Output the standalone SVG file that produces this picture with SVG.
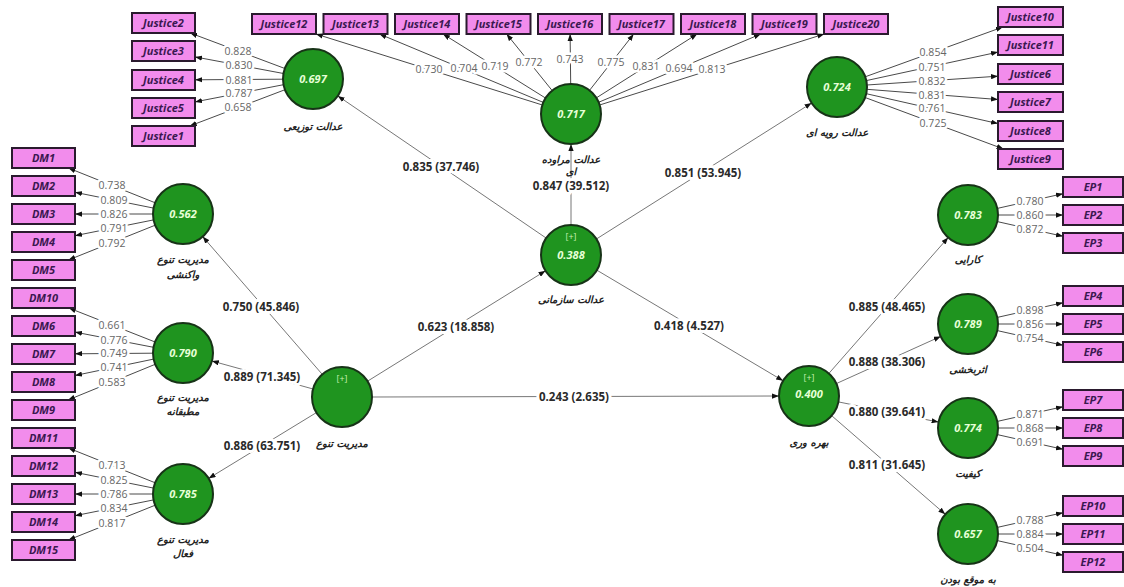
<svg xmlns="http://www.w3.org/2000/svg" width="1124" height="587" viewBox="0 0 1124 587">
<style>
.bx{fill:#f28cec;stroke:#2a1a2e;stroke-width:2}
.bt{font-family:"Open Sans","Liberation Sans",sans-serif;font-size:11px;font-weight:700;font-style:italic;fill:#3a1850;text-anchor:middle}
.lv{fill:#1f941f;stroke:#173317;stroke-width:2}
.vt{font-family:"Open Sans","Liberation Sans",sans-serif;font-size:11px;font-weight:700;font-style:italic;fill:#e6ffd6;text-anchor:middle}
.pl{font-family:"Open Sans","Liberation Sans",sans-serif;font-size:9px;fill:#c8f0b0;text-anchor:middle}
.nl{font-family:"DejaVu Sans","Noto Sans",sans-serif;font-size:10px;font-weight:700;font-style:italic;fill:#222;text-anchor:middle}
.ld{stroke:#4a4a4a;stroke-width:1;fill:none;marker-end:url(#ah)}
.sp{stroke:#777;stroke-width:1;fill:none;marker-end:url(#ah)}
.lt{font-family:"Open Sans","Liberation Sans",sans-serif;font-size:10.5px;fill:#666;text-anchor:middle;stroke:#fff;stroke-width:5;paint-order:stroke;stroke-linejoin:round}
.st{font-family:"Open Sans","Liberation Sans",sans-serif;font-size:11.5px;font-weight:700;fill:#2a2a2a;text-anchor:middle;stroke:#fff;stroke-width:6;paint-order:stroke;stroke-linejoin:round}
</style>
<defs>
<marker id="ah" viewBox="0 0 8 6" refX="8" refY="3" markerWidth="7" markerHeight="5.5" markerUnits="userSpaceOnUse" orient="auto"><path d="M0,0L8,3L0,6z" fill="#111"/></marker>
</defs>
<rect width="1124" height="587" fill="#fff"/>

<g id="connectors">
<line class="ld" x1="284.9" y1="68.5" x2="190.2" y2="33"/>
<line class="ld" x1="283.5" y1="73.5" x2="195" y2="56.9"/>
<line class="ld" x1="283" y1="79.2" x2="195" y2="79.8"/>
<line class="ld" x1="283.5" y1="84.7" x2="195" y2="101.9"/>
<line class="ld" x1="285" y1="89.7" x2="189.7" y2="126"/>
<line class="ld" x1="542.4" y1="105" x2="315.9" y2="34"/>
<line class="ld" x1="543.3" y1="102.4" x2="379.4" y2="34"/>
<line class="ld" x1="545.6" y1="98.1" x2="443" y2="34"/>
<line class="ld" x1="552.2" y1="90.6" x2="506.6" y2="34"/>
<line class="ld" x1="570.7" y1="84" x2="570.1" y2="34"/>
<line class="ld" x1="589.5" y1="90.4" x2="633.7" y2="34"/>
<line class="ld" x1="596.3" y1="97.9" x2="697.2" y2="34"/>
<line class="ld" x1="598.6" y1="102.3" x2="760.8" y2="34"/>
<line class="ld" x1="599.6" y1="105" x2="824.3" y2="34"/>
<line class="ld" x1="865.2" y1="76.8" x2="1002.9" y2="27"/>
<line class="ld" x1="866.3" y1="80.6" x2="998" y2="52.1"/>
<line class="ld" x1="866.9" y1="85" x2="998" y2="76.2"/>
<line class="ld" x1="866.9" y1="89.3" x2="998" y2="99.5"/>
<line class="ld" x1="866.3" y1="93.7" x2="998" y2="123.6"/>
<line class="ld" x1="865.1" y1="97.5" x2="1003.6" y2="149"/>
<line class="ld" x1="155.2" y1="202.8" x2="68.4" y2="168"/>
<line class="ld" x1="153.6" y1="208.1" x2="75" y2="192.3"/>
<line class="ld" x1="153" y1="214" x2="75" y2="214"/>
<line class="ld" x1="153.6" y1="219.9" x2="75" y2="235.7"/>
<line class="ld" x1="155.2" y1="225.2" x2="68.4" y2="260"/>
<line class="ld" x1="155.1" y1="342" x2="68.9" y2="308"/>
<line class="ld" x1="153.5" y1="347.3" x2="75" y2="332.1"/>
<line class="ld" x1="153" y1="353.2" x2="75" y2="353.8"/>
<line class="ld" x1="153.6" y1="359.1" x2="75" y2="375.5"/>
<line class="ld" x1="155.2" y1="364.3" x2="68" y2="400"/>
<line class="ld" x1="155.2" y1="482.8" x2="68.4" y2="448"/>
<line class="ld" x1="153.6" y1="488.1" x2="75" y2="472.3"/>
<line class="ld" x1="153" y1="494" x2="75" y2="494"/>
<line class="ld" x1="153.6" y1="499.9" x2="75" y2="515.7"/>
<line class="ld" x1="155.2" y1="505.2" x2="68.4" y2="540"/>
<line class="ld" x1="997.3" y1="208.4" x2="1063" y2="193.7"/>
<line class="ld" x1="998" y1="215" x2="1063" y2="215"/>
<line class="ld" x1="997.3" y1="221.6" x2="1063" y2="236.3"/>
<line class="ld" x1="997.3" y1="317.4" x2="1063" y2="302.7"/>
<line class="ld" x1="998" y1="324" x2="1063" y2="324"/>
<line class="ld" x1="997.3" y1="330.6" x2="1063" y2="345.3"/>
<line class="ld" x1="997.3" y1="421.4" x2="1063" y2="406.7"/>
<line class="ld" x1="998" y1="428" x2="1063" y2="428"/>
<line class="ld" x1="997.3" y1="434.6" x2="1063" y2="449.3"/>
<line class="ld" x1="997.3" y1="527.4" x2="1063" y2="512.7"/>
<line class="ld" x1="998" y1="534" x2="1063" y2="534"/>
<line class="ld" x1="997.3" y1="540.6" x2="1063" y2="555.3"/>
<line class="sp" x1="546.2" y1="238.1" x2="337.8" y2="95.9"/>
<line class="sp" x1="571" y1="225" x2="571" y2="144"/>
<line class="sp" x1="596.4" y1="239" x2="811.6" y2="103"/>
<line class="sp" x1="367.5" y1="381.2" x2="545.5" y2="270.8"/>
<line class="sp" x1="596.9" y1="270.2" x2="783.1" y2="380.8"/>
<line class="sp" x1="372" y1="397" x2="779" y2="396"/>
<line class="sp" x1="322.3" y1="374.4" x2="202.7" y2="236.6"/>
<line class="sp" x1="313.1" y1="389" x2="211.9" y2="361"/>
<line class="sp" x1="316.4" y1="412.6" x2="208.6" y2="478.4"/>
<line class="sp" x1="828.8" y1="373.5" x2="948.2" y2="237.5"/>
<line class="sp" x1="836.3" y1="383.6" x2="940.7" y2="336.4"/>
<line class="sp" x1="838.4" y1="401.9" x2="938.6" y2="422.1"/>
<line class="sp" x1="831.7" y1="415.7" x2="945.3" y2="514.3"/>
<text class="lt" x="238" y="55">0.828</text>
<text class="lt" x="239" y="69">0.830</text>
<text class="lt" x="239" y="83.5">0.881</text>
<text class="lt" x="239" y="97">0.787</text>
<text class="lt" x="238" y="111">0.658</text>
<text class="lt" x="429" y="73">0.730</text>
<text class="lt" x="464" y="72">0.704</text>
<text class="lt" x="495" y="70">0.719</text>
<text class="lt" x="529" y="66">0.772</text>
<text class="lt" x="570" y="63">0.743</text>
<text class="lt" x="611" y="66">0.775</text>
<text class="lt" x="646" y="70">0.831</text>
<text class="lt" x="679" y="72">0.694</text>
<text class="lt" x="712" y="73">0.813</text>
<text class="lt" x="933" y="56">0.854</text>
<text class="lt" x="932" y="70.5">0.751</text>
<text class="lt" x="932" y="84.5">0.832</text>
<text class="lt" x="932" y="98.5">0.831</text>
<text class="lt" x="932" y="112">0.761</text>
<text class="lt" x="933" y="127">0.725</text>
<text class="lt" x="112" y="189">0.738</text>
<text class="lt" x="114" y="204">0.809</text>
<text class="lt" x="114" y="218">0.826</text>
<text class="lt" x="114" y="231.5">0.791</text>
<text class="lt" x="112" y="246.5">0.792</text>
<text class="lt" x="112" y="329">0.661</text>
<text class="lt" x="114" y="343.5">0.776</text>
<text class="lt" x="114" y="357">0.749</text>
<text class="lt" x="114" y="371">0.741</text>
<text class="lt" x="112" y="386">0.583</text>
<text class="lt" x="112" y="469">0.713</text>
<text class="lt" x="114" y="484">0.825</text>
<text class="lt" x="114" y="498">0.786</text>
<text class="lt" x="114" y="511.5">0.834</text>
<text class="lt" x="112" y="526.5">0.817</text>
<text class="lt" x="1030" y="205">0.780</text>
<text class="lt" x="1030" y="218.5">0.860</text>
<text class="lt" x="1030" y="232.5">0.872</text>
<text class="lt" x="1030" y="314">0.898</text>
<text class="lt" x="1030" y="327.5">0.856</text>
<text class="lt" x="1030" y="341.5">0.754</text>
<text class="lt" x="1030" y="418">0.871</text>
<text class="lt" x="1030" y="431.5">0.868</text>
<text class="lt" x="1030" y="445.5">0.691</text>
<text class="lt" x="1030" y="524">0.788</text>
<text class="lt" x="1030" y="537.5">0.884</text>
<text class="lt" x="1030" y="551.5">0.504</text>
<text class="st" x="441" y="171">0.835 (37.746)</text>
<text class="st" x="571" y="190">0.847 (39.512)</text>
<text class="st" x="703" y="177">0.851 (53.945)</text>
<text class="st" x="456" y="331">0.623 (18.858)</text>
<text class="st" x="689" y="330">0.418 (4.527)</text>
<text class="st" x="574" y="401">0.243 (2.635)</text>
<text class="st" x="261" y="311">0.750 (45.846)</text>
<text class="st" x="262" y="381">0.889 (71.345)</text>
<text class="st" x="262" y="450">0.886 (63.751)</text>
<text class="st" x="887" y="311">0.885 (48.465)</text>
<text class="st" x="887" y="366">0.888 (38.306)</text>
<text class="st" x="887" y="416">0.880 (39.641)</text>
<text class="st" x="887" y="469">0.811 (31.645)</text>
</g>

<g id="ind-justice-left">
<rect class="bx" x="132" y="13" width="63" height="20"/><text class="bt" x="163.5" y="27">Justice2</text>
<rect class="bx" x="132" y="41" width="63" height="20"/><text class="bt" x="163.5" y="55">Justice3</text>
<rect class="bx" x="132" y="70" width="63" height="20"/><text class="bt" x="163.5" y="84">Justice4</text>
<rect class="bx" x="132" y="98" width="63" height="20"/><text class="bt" x="163.5" y="112">Justice5</text>
<rect class="bx" x="132" y="126" width="63" height="20"/><text class="bt" x="163.5" y="140">Justice1</text>
</g>
<g id="ind-justice-top">
<rect class="bx" x="252" y="14" width="64" height="20"/><text class="bt" x="284" y="28">Justice12</text>
<rect class="bx" x="323.5" y="14" width="64" height="20"/><text class="bt" x="355.5" y="28">Justice13</text>
<rect class="bx" x="395" y="14" width="64" height="20"/><text class="bt" x="427" y="28">Justice14</text>
<rect class="bx" x="466.5" y="14" width="64" height="20"/><text class="bt" x="498.5" y="28">Justice15</text>
<rect class="bx" x="538" y="14" width="64" height="20"/><text class="bt" x="570" y="28">Justice16</text>
<rect class="bx" x="609.5" y="14" width="64" height="20"/><text class="bt" x="641.5" y="28">Justice17</text>
<rect class="bx" x="681" y="14" width="64" height="20"/><text class="bt" x="713" y="28">Justice18</text>
<rect class="bx" x="752.5" y="14" width="64" height="20"/><text class="bt" x="784.5" y="28">Justice19</text>
<rect class="bx" x="824" y="14" width="64" height="20"/><text class="bt" x="856" y="28">Justice20</text>
</g>
<g id="ind-justice-right">
<rect class="bx" x="998" y="7" width="65" height="20"/><text class="bt" x="1030.5" y="21">Justice10</text>
<rect class="bx" x="998" y="35" width="65" height="20"/><text class="bt" x="1030.5" y="49">Justice11</text>
<rect class="bx" x="998" y="64" width="65" height="20"/><text class="bt" x="1030.5" y="78">Justice6</text>
<rect class="bx" x="998" y="92" width="65" height="20"/><text class="bt" x="1030.5" y="106">Justice7</text>
<rect class="bx" x="998" y="121" width="65" height="20"/><text class="bt" x="1030.5" y="135">Justice8</text>
<rect class="bx" x="998" y="149" width="65" height="20"/><text class="bt" x="1030.5" y="163">Justice9</text>
</g>
<g id="ind-dm">
<rect class="bx" x="12" y="148" width="63" height="20"/><text class="bt" x="43.5" y="162">DM1</text>
<rect class="bx" x="12" y="176" width="63" height="20"/><text class="bt" x="43.5" y="190">DM2</text>
<rect class="bx" x="12" y="204" width="63" height="20"/><text class="bt" x="43.5" y="218">DM3</text>
<rect class="bx" x="12" y="232" width="63" height="20"/><text class="bt" x="43.5" y="246">DM4</text>
<rect class="bx" x="12" y="260" width="63" height="20"/><text class="bt" x="43.5" y="274">DM5</text>
<rect class="bx" x="12" y="288" width="63" height="20"/><text class="bt" x="43.5" y="302">DM10</text>
<rect class="bx" x="12" y="316" width="63" height="20"/><text class="bt" x="43.5" y="330">DM6</text>
<rect class="bx" x="12" y="344" width="63" height="20"/><text class="bt" x="43.5" y="358">DM7</text>
<rect class="bx" x="12" y="372" width="63" height="20"/><text class="bt" x="43.5" y="386">DM8</text>
<rect class="bx" x="12" y="400" width="63" height="20"/><text class="bt" x="43.5" y="414">DM9</text>
<rect class="bx" x="12" y="428" width="63" height="20"/><text class="bt" x="43.5" y="442">DM11</text>
<rect class="bx" x="12" y="456" width="63" height="20"/><text class="bt" x="43.5" y="470">DM12</text>
<rect class="bx" x="12" y="484" width="63" height="20"/><text class="bt" x="43.5" y="498">DM13</text>
<rect class="bx" x="12" y="512" width="63" height="20"/><text class="bt" x="43.5" y="526">DM14</text>
<rect class="bx" x="12" y="540" width="63" height="20"/><text class="bt" x="43.5" y="554">DM15</text>
</g>
<g id="ind-ep">
<rect class="bx" x="1063" y="177" width="60" height="20"/><text class="bt" x="1093" y="191">EP1</text>
<rect class="bx" x="1063" y="205" width="60" height="20"/><text class="bt" x="1093" y="219">EP2</text>
<rect class="bx" x="1063" y="233" width="60" height="20"/><text class="bt" x="1093" y="247">EP3</text>
<rect class="bx" x="1063" y="286" width="60" height="20"/><text class="bt" x="1093" y="300">EP4</text>
<rect class="bx" x="1063" y="314" width="60" height="20"/><text class="bt" x="1093" y="328">EP5</text>
<rect class="bx" x="1063" y="342" width="60" height="20"/><text class="bt" x="1093" y="356">EP6</text>
<rect class="bx" x="1063" y="390" width="60" height="20"/><text class="bt" x="1093" y="404">EP7</text>
<rect class="bx" x="1063" y="418" width="60" height="20"/><text class="bt" x="1093" y="432">EP8</text>
<rect class="bx" x="1063" y="446" width="60" height="20"/><text class="bt" x="1093" y="460">EP9</text>
<rect class="bx" x="1063" y="496" width="60" height="20"/><text class="bt" x="1093" y="510">EP10</text>
<rect class="bx" x="1063" y="524" width="60" height="20"/><text class="bt" x="1093" y="538">EP11</text>
<rect class="bx" x="1063" y="552" width="60" height="20"/><text class="bt" x="1093" y="566">EP12</text>
</g>

<g id="n-distributive"><circle class="lv" cx="313" cy="79" r="30"/><text class="vt" x="313" y="83">0.697</text><text class="nl" x="313" y="130">عدالت توزیعی</text></g>
<g id="n-interactional"><circle class="lv" cx="571" cy="114" r="30"/><text class="vt" x="571" y="118">0.717</text><text class="nl" x="571" y="163">عدالت مراوده</text><text class="nl" x="571" y="175">ای</text></g>
<g id="n-procedural"><circle class="lv" cx="837" cy="87" r="30"/><text class="vt" x="837" y="91">0.724</text><text class="nl" x="837" y="136">عدالت رویه ای</text></g>
<g id="n-organizational"><circle class="lv" cx="571" cy="255" r="30"/><text class="pl" x="571" y="240">[+]</text><text class="vt" x="571" y="259">0.388</text><text class="nl" x="571" y="303">عدالت سازمانی</text></g>
<g id="n-diversity"><circle class="lv" cx="342" cy="397" r="30"/><text class="pl" x="342" y="382">[+]</text><text class="nl" x="342" y="447">مدیریت تنوع</text></g>
<g id="n-productivity"><circle class="lv" cx="809" cy="396" r="30"/><text class="pl" x="809" y="381">[+]</text><text class="vt" x="809" y="398">0.400</text><text class="nl" x="809" y="446">بهره وری</text></g>
<g id="n-reactive"><circle class="lv" cx="183" cy="214" r="30"/><text class="vt" x="183" y="218">0.562</text><text class="nl" x="183" y="263">مدیریت تنوع</text><text class="nl" x="183" y="278">واکنشی</text></g>
<g id="n-strategic"><circle class="lv" cx="183" cy="353" r="30"/><text class="vt" x="183" y="357">0.790</text><text class="nl" x="183" y="401">مدیریت تنوع</text><text class="nl" x="183" y="415">مطبقانه</text></g>
<g id="n-active"><circle class="lv" cx="183" cy="494" r="30"/><text class="vt" x="183" y="498">0.785</text><text class="nl" x="183" y="543">مدیریت تنوع</text><text class="nl" x="183" y="557">فعال</text></g>
<g id="n-efficiency"><circle class="lv" cx="968" cy="215" r="30"/><text class="vt" x="968" y="219">0.783</text><text class="nl" x="968" y="263">کارایی</text></g>
<g id="n-effectiveness"><circle class="lv" cx="968" cy="324" r="30"/><text class="vt" x="968" y="328">0.789</text><text class="nl" x="968" y="373">اثربخشی</text></g>
<g id="n-quality"><circle class="lv" cx="968" cy="428" r="30"/><text class="vt" x="968" y="432">0.774</text><text class="nl" x="968" y="477">کیفیت</text></g>
<g id="n-timeliness"><circle class="lv" cx="968" cy="534" r="30"/><text class="vt" x="968" y="538">0.657</text><text class="nl" x="968" y="583">به موقع بودن</text></g>
</svg>
